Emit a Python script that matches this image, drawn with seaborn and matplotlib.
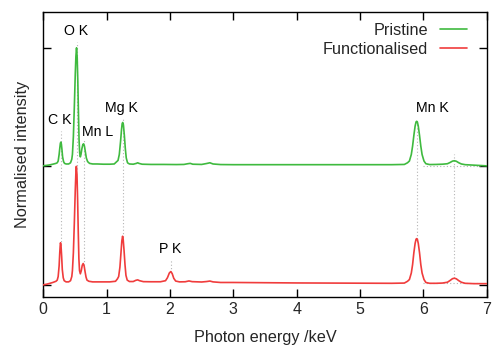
import numpy as np
import pandas as pd
import matplotlib
matplotlib.use("Agg")
import matplotlib.pyplot as plt
import seaborn as sns

# ---------------- data ----------------
# Pristine spectrum (normalised to O K peak), energy in keV
pristine_energy = [0.00, 0.05, 0.10, 0.15, 0.20, 0.22, 0.235, 0.25, 0.262, 0.27, 0.277, 0.285,
                   0.295, 0.305, 0.32, 0.335, 0.36, 0.40, 0.43, 0.45, 0.46, 0.475, 0.49, 0.505,
                   0.515, 0.525, 0.535, 0.545, 0.555, 0.565, 0.575, 0.585, 0.595, 0.61, 0.625,
                   0.637, 0.65, 0.665, 0.68, 0.70, 0.73, 0.78, 0.85, 0.95, 1.05, 1.12, 1.16,
                   1.18, 1.20, 1.22, 1.235, 1.245, 1.254, 1.265, 1.28, 1.295, 1.31, 1.33, 1.36,
                   1.42, 1.47, 1.49, 1.51, 1.56, 1.70, 1.90, 2.10, 2.22, 2.28, 2.32, 2.36, 2.50,
                   2.58, 2.63, 2.68, 2.80, 3.00, 3.50, 4.00, 4.50, 5.00, 5.50, 5.70, 5.75, 5.78,
                   5.81, 5.83, 5.85, 5.87, 5.885, 5.895, 5.905, 5.92, 5.94, 5.96, 5.98, 6.01,
                   6.04, 6.10, 6.20, 6.30, 6.38, 6.42, 6.46, 6.49, 6.52, 6.56, 6.60, 6.66, 6.80,
                   7.00]
pristine_intensity = [0.005, 0.008, 0.012, 0.018, 0.025, 0.030, 0.045, 0.100, 0.160, 0.195, 0.204,
                      0.190, 0.140, 0.080, 0.040, 0.025, 0.020, 0.020, 0.030, 0.060, 0.100, 0.250,
                      0.500, 0.780, 0.930, 1.000, 0.920, 0.720, 0.450, 0.220, 0.110, 0.080, 0.100,
                      0.150, 0.185, 0.190, 0.170, 0.120, 0.070, 0.040, 0.025, 0.020, 0.020, 0.018,
                      0.018, 0.020, 0.040, 0.050, 0.100, 0.210, 0.310, 0.360, 0.370, 0.350, 0.260,
                      0.150, 0.070, 0.030, 0.020, 0.018, 0.025, 0.030, 0.025, 0.018, 0.016, 0.016,
                      0.015, 0.016, 0.022, 0.025, 0.018, 0.016, 0.024, 0.030, 0.020, 0.015, 0.014,
                      0.014, 0.014, 0.014, 0.014, 0.014, 0.016, 0.030, 0.045, 0.100, 0.170, 0.260,
                      0.340, 0.375, 0.380, 0.375, 0.340, 0.260, 0.170, 0.100, 0.045, 0.022, 0.015,
                      0.016, 0.018, 0.022, 0.032, 0.044, 0.047, 0.043, 0.030, 0.020, 0.014, 0.010,
                      0.004]

# Functionalised spectrum
func_energy = [0.00, 0.05, 0.10, 0.15, 0.20, 0.22, 0.235, 0.25, 0.26, 0.267, 0.272, 0.28, 0.29,
               0.30, 0.315, 0.33, 0.36, 0.40, 0.43, 0.45, 0.46, 0.475, 0.49, 0.505, 0.515, 0.522,
               0.532, 0.542, 0.552, 0.562, 0.572, 0.585, 0.60, 0.615, 0.63, 0.645, 0.66, 0.675,
               0.69, 0.72, 0.78, 0.90, 1.05, 1.14, 1.17, 1.19, 1.21, 1.225, 1.24, 1.252, 1.262,
               1.275, 1.29, 1.305, 1.325, 1.36, 1.42, 1.46, 1.49, 1.52, 1.58, 1.70, 1.85, 1.93,
               1.96, 1.99, 2.013, 2.035, 2.06, 2.09, 2.15, 2.24, 2.30, 2.35, 2.50, 2.58, 2.63,
               2.68, 2.80, 3.00, 3.50, 4.00, 4.50, 5.00, 5.50, 5.70, 5.75, 5.78, 5.81, 5.83, 5.85,
               5.87, 5.885, 5.895, 5.905, 5.92, 5.94, 5.96, 5.98, 6.01, 6.04, 6.10, 6.20, 6.30,
               6.38, 6.42, 6.46, 6.49, 6.52, 6.56, 6.60, 6.66, 6.80, 7.00]
func_intensity = [0.000, 0.005, 0.012, 0.020, 0.030, 0.040, 0.070, 0.160, 0.270, 0.330, 0.355,
                  0.330, 0.240, 0.130, 0.060, 0.035, 0.025, 0.025, 0.035, 0.070, 0.120, 0.270,
                  0.520, 0.800, 0.950, 1.000, 0.930, 0.720, 0.450, 0.220, 0.120, 0.093, 0.120,
                  0.165, 0.180, 0.160, 0.110, 0.065, 0.040, 0.030, 0.025, 0.025, 0.025, 0.030,
                  0.050, 0.070, 0.150, 0.260, 0.370, 0.410, 0.380, 0.290, 0.170, 0.080, 0.040,
                  0.028, 0.028, 0.038, 0.042, 0.035, 0.027, 0.026, 0.026, 0.035, 0.060, 0.100,
                  0.112, 0.095, 0.055, 0.032, 0.025, 0.026, 0.033, 0.027, 0.024, 0.028, 0.032,
                  0.025, 0.020, 0.020, 0.018, 0.016, 0.015, 0.014, 0.013, 0.015, 0.030, 0.045,
                  0.100, 0.170, 0.270, 0.350, 0.385, 0.390, 0.385, 0.350, 0.270, 0.170, 0.100,
                  0.045, 0.020, 0.013, 0.013, 0.015, 0.022, 0.036, 0.052, 0.056, 0.051, 0.035,
                  0.022, 0.013, 0.010, 0.010]

series_names = ["Pristine", "Functionalised"]
series_offsets = [1.0, 0.0]

# peak markers: energy, label, top of dotted guide
peak_energies = [0.277, 0.525, 0.637, 1.254, 2.013, 5.895, 6.49]
peak_guide_top = [1.30, 2.05, 1.22, 1.42, 0.21, 1.39, 1.10]
label_texts = ["C K", "O K", "Mn L", "Mg K", "P K", "Mn K"]
label_x = [0.26, 0.52, 0.86, 1.24, 2.00, 6.15]
label_y = [1.39, 2.145, 1.29, 1.495, 0.30, 1.49]

# background guides under the Mn K-beta peak
bg_x = [5.99, 6.90]
bg_levels = [1.004, 0.014]

x_ticks = [0, 1, 2, 3, 4, 5, 6, 7]
y_ticks = [0, 1, 2]

# ---------------- plotting ----------------
sns.set_theme(style="ticks")
plt.rcParams["font.family"] = ["Liberation Sans", "DejaVu Sans"]

green = "#3fba3f"
red = "#f03c3c"
guide_color = "#b4b4b4"

frames = []
for name, off, e, v in zip(series_names, series_offsets,
                           [pristine_energy, func_energy],
                           [pristine_intensity, func_intensity]):
    frames.append(pd.DataFrame({"energy": e,
                                "intensity": np.asarray(v) + off,
                                "series": name}))
df = pd.concat(frames, ignore_index=True)

fig = plt.figure(figsize=(4.93, 3.46), dpi=100)
ax = fig.add_axes([0.0878, 0.1425, 0.8994, 0.822])

# dotted guide lines (behind the spectra)
func_e = np.asarray(func_energy)
func_v = np.asarray(func_intensity)
for e, top in zip(peak_energies, peak_guide_top):
    bottom = np.interp(e, func_e, func_v)
    ax.plot([e, e], [bottom, top], ls=(0, (1, 2)), color=guide_color, lw=0.8, zorder=1)
for lvl in bg_levels:
    ax.plot(bg_x, [lvl, lvl], ls=(0, (1, 2)), color=guide_color, lw=0.8, zorder=1)

sns.lineplot(data=df, x="energy", y="intensity", hue="series",
             hue_order=series_names, palette=[green, red],
             estimator=None, sort=True, lw=1.2, legend=False, ax=ax, zorder=3)

for t, x, y in zip(label_texts, label_x, label_y):
    ax.text(x, y, t, ha="center", va="center", fontsize=10.2, color="black")

ax.set_xlim(0, 7)
ax.set_ylim(-0.1, 2.3)
ax.set_xticks(x_ticks)
ax.set_xticklabels([str(t) for t in x_ticks])
ax.set_yticks(y_ticks)
ax.set_yticklabels([])
ax.tick_params(axis="both", direction="in", length=5.8, width=1.0, color="black",
               top=True, right=True, labelsize=11.5, pad=3.5)
for s in ax.spines.values():
    s.set_visible(True)
    s.set_color("black")
    s.set_linewidth(1.0)

ax.set_xlabel("Photon energy /keV", fontsize=11.7, labelpad=10)
ax.set_ylabel("Normalised intensity", fontsize=11.7, labelpad=6)

lines = ax.get_lines()[-2:]
leg = ax.legend(lines, series_names, loc="upper right",
                bbox_to_anchor=(467 / 493, 1 - 22.6 / 346),
                bbox_transform=fig.transFigure,
                frameon=False, markerfirst=False, fontsize=11.7,
                handlelength=1.65, handletextpad=0.75, labelspacing=0.25,
                borderpad=0, borderaxespad=0)

fig.savefig("out.png", dpi=100)
